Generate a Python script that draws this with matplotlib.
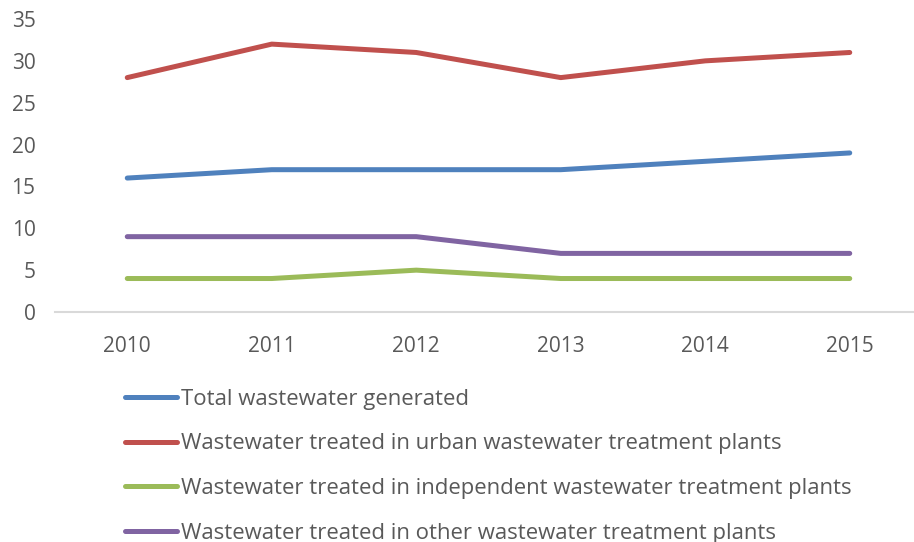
import matplotlib.pyplot as plt

years = ["2010", "2011", "2012", "2013", "2014", "2015"]
total = [16, 17, 17, 17, 18, 19]
urban = [28, 32, 31, 28, 30, 31]
independent = [4, 4, 5, 4, 4, 4]
other = [9, 9, 9, 7, 7, 7]

labels = [
    "Total wastewater generated",
    "Wastewater treated in urban wastewater treatment plants",
    "Wastewater treated in independent wastewater treatment plants",
    "Wastewater treated in other wastewater treatment plants",
]
colors = ["#4F81BD", "#C0504D", "#9BBB59", "#8064A2"]
text_color = "#595959"

plt.rcParams["font.family"] = ["Open Sans", "DejaVu Sans"]

W, H = 914, 542
fig = plt.figure(figsize=(W / 100, H / 100), dpi=100)
# axes box in pixels: left 55, right ~922 (runs past the edge), y=0 at 312, y=35 at 19
ax = fig.add_axes([55 / W, (H - 312) / H, (922 - 55) / W, (312 - 19) / H])

x = range(len(years))
for series, lab, col in zip([total, urban, independent, other], labels, colors):
    ax.plot(x, series, color=col, lw=3.6, solid_capstyle="round",
            solid_joinstyle="round", label=lab)

ax.set_xlim(-0.5, len(years) - 0.5)
ax.set_ylim(0, 35)
ax.set_yticks(range(0, 36, 5))
ax.set_xticks(list(x))
ax.set_xticklabels(years)

for s in ["top", "right", "left"]:
    ax.spines[s].set_visible(False)
ax.spines["bottom"].set_color("#D9D9D9")
ax.spines["bottom"].set_linewidth(1.5)
ax.tick_params(axis="both", length=0, colors=text_color, labelsize=15)
ax.tick_params(axis="y", pad=14)
ax.tick_params(axis="x", pad=17)

handles, labs = ax.get_legend_handles_labels()
leg = fig.legend(handles, labs, loc="upper left",
                 bbox_to_anchor=(116 / W, 1 - 380 / H), frameon=False,
                 fontsize=15.9, handlelength=2.35, handletextpad=0.18,
                 labelspacing=1.07, borderaxespad=0)
for t in leg.get_texts():
    t.set_color(text_color)
for l in leg.get_lines():
    l.set_linewidth(3.6)
    l.set_solid_capstyle("round")

fig.savefig("out.png", dpi=100)
